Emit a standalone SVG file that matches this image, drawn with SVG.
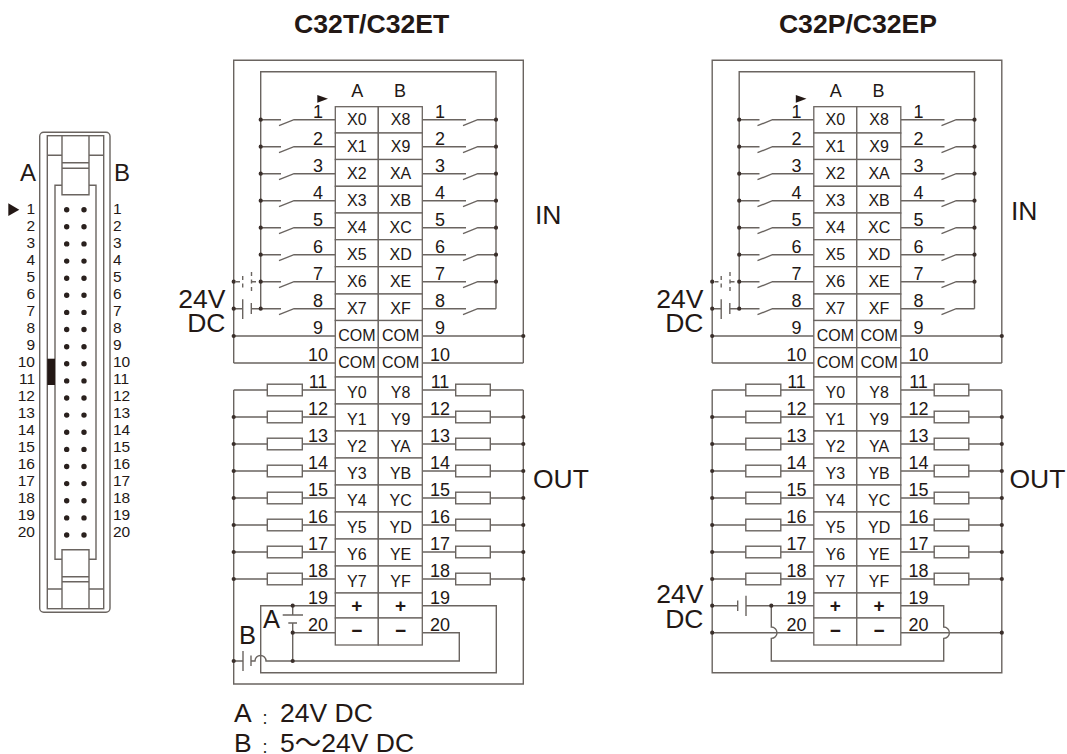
<svg xmlns="http://www.w3.org/2000/svg" width="1067" height="754" viewBox="0 0 1067 754">
<style>
text{font-family:"Liberation Sans",Arial,"Noto Sans CJK JP",sans-serif;fill:#231815}
.w{fill:none;stroke:#6a6460;stroke-width:1.4}
.c{fill:#fff;stroke:#6a6460;stroke-width:1.3}
.d{fill:none;stroke:#3a2f2b;stroke-width:4.2;stroke-linecap:round}
.b{fill:none;stroke:#2a211e;stroke-width:5.4;stroke-linecap:round}
.dash{stroke-dasharray:4 3.5}
.t{font-size:26.6px;font-weight:bold;text-anchor:middle}
.l{font-size:26.5px}
.e{font-size:26.5px;text-anchor:end}
.n{font-size:18px;text-anchor:middle}
.h{font-size:18px;text-anchor:middle}
.x{font-size:16px;text-anchor:middle}
.s{font-size:19px;font-weight:bold;text-anchor:middle}
.p{font-size:15.5px;text-anchor:end}
.q{font-size:15.5px}
.m{fill:#231815}
</style>
<defs>
<g id="wires-common" class="w">
<path d="M233.7 363V60.3H523.3V363M260.7 308.7V71.7H496V308.7M233.7 390V579M523.3 390V579"/>
<path d="M260.7 119.7H281M279 125.7L294 119.7H335.3M260.7 146.7H281M279 152.7L294 146.7H335.3M260.7 173.7H281M279 179.7L294 173.7H335.3M260.7 200.7H281M279 206.7L294 200.7H335.3M260.7 227.7H281M279 233.7L294 227.7H335.3M260.7 254.7H281M279 260.7L294 254.7H335.3M260.7 281.7H281M279 287.7L294 281.7H335.3M260.7 308.7H281M279 314.7L294 308.7H335.3"/>
<path d="M422.3 119.7H466M463 125.7L477.7 119.7H496M422.3 146.7H466M463 152.7L477.7 146.7H496M422.3 173.7H466M463 179.7L477.7 173.7H496M422.3 200.7H466M463 206.7L477.7 200.7H496M422.3 227.7H466M463 233.7L477.7 227.7H496M422.3 254.7H466M463 260.7L477.7 254.7H496M422.3 281.7H466M463 287.7L477.7 281.7H496M422.3 308.7H466M463 314.7L477.7 308.7H496"/>
<path d="M233.7 336H335.3M422.3 336H523.3M233.7 363H335.3M422.3 363H523.3"/>
<path d="M233.7 308.7H242.7M242.7 299.3V319M251.3 303V314M251.3 308.7H260.7"/>
<path class="dash" d="M236 281.7H243M242.7 276V290M251.5 272V292M252 281.7H260"/>
<path d="M233.7 390H335.3M233.7 417H335.3M233.7 444H335.3M233.7 471H335.3M233.7 498H335.3M233.7 525H335.3M233.7 552H335.3M233.7 579H335.3M422.3 390H523.3M422.3 417H523.3M422.3 444H523.3M422.3 471H523.3M422.3 498H523.3M422.3 525H523.3M422.3 552H523.3M422.3 579H523.3"/>
<g fill="#fff">
<rect x="267.3" y="384.2" width="35" height="11.6"/><rect x="267.3" y="411.2" width="35" height="11.6"/><rect x="267.3" y="438.2" width="35" height="11.6"/><rect x="267.3" y="465.2" width="35" height="11.6"/><rect x="267.3" y="492.2" width="35" height="11.6"/><rect x="267.3" y="519.2" width="35" height="11.6"/><rect x="267.3" y="546.2" width="35" height="11.6"/><rect x="267.3" y="573.2" width="35" height="11.6"/>
<rect x="455.7" y="384.2" width="34.6" height="11.6"/><rect x="455.7" y="411.2" width="34.6" height="11.6"/><rect x="455.7" y="438.2" width="34.6" height="11.6"/><rect x="455.7" y="465.2" width="34.6" height="11.6"/><rect x="455.7" y="492.2" width="34.6" height="11.6"/><rect x="455.7" y="519.2" width="34.6" height="11.6"/><rect x="455.7" y="546.2" width="34.6" height="11.6"/><rect x="455.7" y="573.2" width="34.6" height="11.6"/>
</g>
</g>
<path id="dots-common" class="d" d="M260.7 119.7h0M260.7 146.7h0M260.7 173.7h0M260.7 200.7h0M260.7 227.7h0M260.7 254.7h0M260.7 281.7h0M260.7 308.7h0M496 119.7h0M496 146.7h0M496 173.7h0M496 200.7h0M496 227.7h0M496 254.7h0M496 281.7h0M233.7 281.7h0M233.7 308.7h0M233.7 336h0M523.3 336h0M233.7 417h0M233.7 444h0M233.7 471h0M233.7 498h0M233.7 525h0M233.7 552h0M233.7 579h0M523.3 417h0M523.3 444h0M523.3 471h0M523.3 498h0M523.3 525h0M523.3 552h0M523.3 579h0"/>
</defs>

<g id="connector">
<g class="w">
<rect x="39.7" y="132.3" width="70.3" height="480" rx="4"/>
<rect x="47.3" y="135.7" width="56.4" height="473"/>
<path d="M62 135.7V194.7H89V135.7M47.3 155.3H62M89 155.3H103.7M62 162.7H89M62 168.3H89M62 185.3H55V559.3H62M89 185.3H96V559.3H89M62 608.7V549.7H89V608.7M62 576.7H89M62 581.7H89M47.3 589H62M89 589H103.7"/>
</g>
<rect class="m" x="47.3" y="358.7" width="7.7" height="26.3"/>
<path class="m" d="M8.3 203.3L19.3 209.7L8.3 216Z"/>
<path class="b" d="M66.7 209.7h0M84 209.7h0M66.7 226.8h0M84 226.8h0M66.7 243.9h0M84 243.9h0M66.7 261.1h0M84 261.1h0M66.7 278.2h0M84 278.2h0M66.7 295.3h0M84 295.3h0M66.7 312.4h0M84 312.4h0M66.7 329.5h0M84 329.5h0M66.7 346.7h0M84 346.7h0M66.7 363.8h0M84 363.8h0M66.7 380.9h0M84 380.9h0M66.7 398h0M84 398h0M66.7 415.1h0M84 415.1h0M66.7 432.3h0M84 432.3h0M66.7 449.4h0M84 449.4h0M66.7 466.5h0M84 466.5h0M66.7 483.6h0M84 483.6h0M66.7 500.7h0M84 500.7h0M66.7 517.9h0M84 517.9h0M66.7 535h0M84 535h0"/>
<text x="20" y="180.7" font-size="24">A</text><text x="114" y="180.7" font-size="24">B</text>
<text class="p" x="35" y="213.5">1</text><text class="p" x="35" y="230.5">2</text><text class="p" x="35" y="247.5">3</text><text class="p" x="35" y="264.5">4</text><text class="p" x="35" y="281.5">5</text><text class="p" x="35" y="298.5">6</text><text class="p" x="35" y="315.5">7</text><text class="p" x="35" y="332.5">8</text><text class="p" x="35" y="350">9</text><text class="p" x="35" y="367">10</text><text class="p" x="35" y="384">11</text><text class="p" x="35" y="401">12</text><text class="p" x="35" y="418">13</text><text class="p" x="35" y="435">14</text><text class="p" x="35" y="452">15</text><text class="p" x="35" y="469">16</text><text class="p" x="35" y="486">17</text><text class="p" x="35" y="503">18</text><text class="p" x="35" y="520">19</text><text class="p" x="35" y="537.3">20</text>
<text class="q" x="113" y="213.5">1</text><text class="q" x="113" y="230.5">2</text><text class="q" x="113" y="247.5">3</text><text class="q" x="113" y="264.5">4</text><text class="q" x="113" y="281.5">5</text><text class="q" x="113" y="298.5">6</text><text class="q" x="113" y="315.5">7</text><text class="q" x="113" y="332.5">8</text><text class="q" x="113" y="350">9</text><text class="q" x="113" y="367">10</text><text class="q" x="113" y="384">11</text><text class="q" x="113" y="401">12</text><text class="q" x="113" y="418">13</text><text class="q" x="113" y="435">14</text><text class="q" x="113" y="452">15</text><text class="q" x="113" y="469">16</text><text class="q" x="113" y="486">17</text><text class="q" x="113" y="503">18</text><text class="q" x="113" y="520">19</text><text class="q" x="113" y="537.3">20</text>
</g>

<g id="panel-c32t">
<text class="t" x="371.7" y="33.3">C32T/C32ET</text>
<g id="connectors-c32t">
<use href="#wires-common"/>
<g class="w">
<path d="M233.7 579V684H523.3V579"/>
<path d="M335.3 605.7H260.7V672.7H496.3V605.7H422.3"/>
<path d="M292.7 605.7V615M282.7 615H303M288.3 623H297M292.7 623V661M292.7 632.7H335.3M422.3 632.7H459.3V661H266A5.5 5.5 0 0 0 255 661H251M233.7 661H243M243 651V671M251 655.5V666"/>
</g>
<use href="#dots-common"/>
<path class="d" d="M292.7 605.7h0M292.7 632.7h0M292.7 661h0M233.7 661h0"/>
</g>
<g id="terminals-c32t">
<g id="t-x0"><rect class="c" x="335.3" y="106.7" width="43" height="26.3"/><text class="x" x="356.8" y="125">X0</text></g>
<g id="t-x1"><rect class="c" x="335.3" y="133" width="43" height="26.5"/><text class="x" x="356.8" y="152">X1</text></g>
<g id="t-x2"><rect class="c" x="335.3" y="159.5" width="43" height="26.8"/><text class="x" x="356.8" y="179">X2</text></g>
<g id="t-x3"><rect class="c" x="335.3" y="186.3" width="43" height="26.7"/><text class="x" x="356.8" y="206">X3</text></g>
<g id="t-x4"><rect class="c" x="335.3" y="213" width="43" height="26.7"/><text class="x" x="356.8" y="233">X4</text></g>
<g id="t-x5"><rect class="c" x="335.3" y="239.7" width="43" height="27"/><text class="x" x="356.8" y="260">X5</text></g>
<g id="t-x6"><rect class="c" x="335.3" y="266.7" width="43" height="27.3"/><text class="x" x="356.8" y="287">X6</text></g>
<g id="t-x7"><rect class="c" x="335.3" y="294" width="43" height="26.5"/><text class="x" x="356.8" y="314">X7</text></g>
<g id="t-com1"><rect class="c" x="335.3" y="320.5" width="43" height="27.2"/><text class="x" x="356.8" y="340.7">COM</text></g>
<g id="t-com2"><rect class="c" x="335.3" y="347.7" width="43" height="29.3"/><text class="x" x="356.8" y="368.3">COM</text></g>
<g id="t-y0"><rect class="c" x="335.3" y="377" width="43" height="27"/><text class="x" x="356.8" y="398">Y0</text></g>
<g id="t-y1"><rect class="c" x="335.3" y="404" width="43" height="27"/><text class="x" x="356.8" y="425">Y1</text></g>
<g id="t-y2"><rect class="c" x="335.3" y="431" width="43" height="27"/><text class="x" x="356.8" y="452">Y2</text></g>
<g id="t-y3"><rect class="c" x="335.3" y="458" width="43" height="27"/><text class="x" x="356.8" y="479">Y3</text></g>
<g id="t-y4"><rect class="c" x="335.3" y="485" width="43" height="27"/><text class="x" x="356.8" y="506">Y4</text></g>
<g id="t-y5"><rect class="c" x="335.3" y="512" width="43" height="27"/><text class="x" x="356.8" y="533">Y5</text></g>
<g id="t-y6"><rect class="c" x="335.3" y="539" width="43" height="27"/><text class="x" x="356.8" y="560">Y6</text></g>
<g id="t-y7"><rect class="c" x="335.3" y="566" width="43" height="27"/><text class="x" x="356.8" y="587">Y7</text></g>
<g id="t-pa"><rect class="c" x="335.3" y="593" width="43" height="25"/><text class="s" x="356.8" y="612">+</text></g>
<g id="t-ma"><rect class="c" x="335.3" y="618" width="43" height="27"/><text class="s" x="356.8" y="637">−</text></g>
<g id="t-x8"><rect class="c" x="378.3" y="106.7" width="44" height="26.3"/><text class="x" x="400.6" y="125">X8</text></g>
<g id="t-x9"><rect class="c" x="378.3" y="133" width="44" height="26.5"/><text class="x" x="400.6" y="152">X9</text></g>
<g id="t-xa"><rect class="c" x="378.3" y="159.5" width="44" height="26.8"/><text class="x" x="400.6" y="179">XA</text></g>
<g id="t-xb"><rect class="c" x="378.3" y="186.3" width="44" height="26.7"/><text class="x" x="400.6" y="206">XB</text></g>
<g id="t-xc"><rect class="c" x="378.3" y="213" width="44" height="26.7"/><text class="x" x="400.6" y="233">XC</text></g>
<g id="t-xd"><rect class="c" x="378.3" y="239.7" width="44" height="27"/><text class="x" x="400.6" y="260">XD</text></g>
<g id="t-xe"><rect class="c" x="378.3" y="266.7" width="44" height="27.3"/><text class="x" x="400.6" y="287">XE</text></g>
<g id="t-xf"><rect class="c" x="378.3" y="294" width="44" height="26.5"/><text class="x" x="400.6" y="314">XF</text></g>
<g id="t-com3"><rect class="c" x="378.3" y="320.5" width="44" height="27.2"/><text class="x" x="400.6" y="340.7">COM</text></g>
<g id="t-com4"><rect class="c" x="378.3" y="347.7" width="44" height="29.3"/><text class="x" x="400.6" y="368.3">COM</text></g>
<g id="t-y8"><rect class="c" x="378.3" y="377" width="44" height="27"/><text class="x" x="400.6" y="398">Y8</text></g>
<g id="t-y9"><rect class="c" x="378.3" y="404" width="44" height="27"/><text class="x" x="400.6" y="425">Y9</text></g>
<g id="t-ya"><rect class="c" x="378.3" y="431" width="44" height="27"/><text class="x" x="400.6" y="452">YA</text></g>
<g id="t-yb"><rect class="c" x="378.3" y="458" width="44" height="27"/><text class="x" x="400.6" y="479">YB</text></g>
<g id="t-yc"><rect class="c" x="378.3" y="485" width="44" height="27"/><text class="x" x="400.6" y="506">YC</text></g>
<g id="t-yd"><rect class="c" x="378.3" y="512" width="44" height="27"/><text class="x" x="400.6" y="533">YD</text></g>
<g id="t-ye"><rect class="c" x="378.3" y="539" width="44" height="27"/><text class="x" x="400.6" y="560">YE</text></g>
<g id="t-yf"><rect class="c" x="378.3" y="566" width="44" height="27"/><text class="x" x="400.6" y="587">YF</text></g>
<g id="t-pb"><rect class="c" x="378.3" y="593" width="44" height="25"/><text class="s" x="400.6" y="612">+</text></g>
<g id="t-mb"><rect class="c" x="378.3" y="618" width="44" height="27"/><text class="s" x="400.6" y="637">−</text></g>
</g>
<g id="labels-c32t">
<text class="h" x="357.3" y="97.3">A</text><text class="h" x="400" y="97.3">B</text>
<path class="m" d="M317.3 95L328 98.8L317.3 102.7Z"/>
<text class="n" x="318" y="118">1</text><text class="n" x="318" y="145">2</text><text class="n" x="318" y="172">3</text><text class="n" x="318" y="199">4</text><text class="n" x="318" y="226">5</text><text class="n" x="318" y="253">6</text><text class="n" x="318" y="280">7</text><text class="n" x="318" y="307">8</text><text class="n" x="318" y="334">9</text><text class="n" x="318" y="361">10</text><text class="n" x="318" y="388">11</text><text class="n" x="318" y="415">12</text><text class="n" x="318" y="442">13</text><text class="n" x="318" y="469">14</text><text class="n" x="318" y="496">15</text><text class="n" x="318" y="523">16</text><text class="n" x="318" y="550">17</text><text class="n" x="318" y="577">18</text><text class="n" x="318" y="604">19</text><text class="n" x="318" y="631">20</text>
<text class="n" x="440" y="118">1</text><text class="n" x="440" y="145">2</text><text class="n" x="440" y="172">3</text><text class="n" x="440" y="199">4</text><text class="n" x="440" y="226">5</text><text class="n" x="440" y="253">6</text><text class="n" x="440" y="280">7</text><text class="n" x="440" y="307">8</text><text class="n" x="440" y="334">9</text><text class="n" x="440" y="361">10</text><text class="n" x="440" y="388">11</text><text class="n" x="440" y="415">12</text><text class="n" x="440" y="442">13</text><text class="n" x="440" y="469">14</text><text class="n" x="440" y="496">15</text><text class="n" x="440" y="523">16</text><text class="n" x="440" y="550">17</text><text class="n" x="440" y="577">18</text><text class="n" x="440" y="604">19</text><text class="n" x="440" y="631">20</text>
<text class="e" x="225.5" y="308">24V</text><text class="e" x="225.5" y="331.7">DC</text>
<text class="l" x="535" y="224">IN</text><text class="l" x="533" y="488.3">OUT</text>
<text x="263" y="628" font-size="25.5">A</text><text x="239" y="644" font-size="25.5">B</text>
<text class="l" x="234" y="722.3">A<tspan x="258" y="723.7" font-size="14">：</tspan><tspan x="280" y="722.3">24V DC</tspan></text>
<text class="l" x="234" y="751.5">B<tspan x="258" y="753" font-size="14">：</tspan><tspan x="280" y="751.5">5～24V DC</tspan></text>
</g>
</g>

<g id="panel-c32p">
<text class="t" x="858" y="33.3">C32P/C32EP</text>
<g id="connectors-c32p" transform="translate(478.5 0)">
<use href="#wires-common"/>
<g class="w">
<path d="M233.7 579V672.7H523.3V579"/>
<path d="M233.7 605.7H259.2M259.2 600.5V611M267.5 595.7V616M267.5 605.7H335.3M292.8 605.7V627A5.7 5.7 0 0 1 292.8 638.4V661H465.2V638.4A5.7 5.7 0 0 0 465.2 627V605.7H422.3"/>
<path d="M233.7 632.7H335.3M422.3 632.7H523.3"/>
</g>
<use href="#dots-common"/>
<path class="d" d="M233.7 605.7h0M233.7 632.7h0M523.3 632.7h0M292.8 605.7h0"/>
</g>
<g id="terminals-c32p" transform="translate(478.5 0)">
<g id="u-x0"><rect class="c" x="335.3" y="106.7" width="43" height="26.3"/><text class="x" x="356.8" y="125">X0</text></g>
<g id="u-x1"><rect class="c" x="335.3" y="133" width="43" height="26.5"/><text class="x" x="356.8" y="152">X1</text></g>
<g id="u-x2"><rect class="c" x="335.3" y="159.5" width="43" height="26.8"/><text class="x" x="356.8" y="179">X2</text></g>
<g id="u-x3"><rect class="c" x="335.3" y="186.3" width="43" height="26.7"/><text class="x" x="356.8" y="206">X3</text></g>
<g id="u-x4"><rect class="c" x="335.3" y="213" width="43" height="26.7"/><text class="x" x="356.8" y="233">X4</text></g>
<g id="u-x5"><rect class="c" x="335.3" y="239.7" width="43" height="27"/><text class="x" x="356.8" y="260">X5</text></g>
<g id="u-x6"><rect class="c" x="335.3" y="266.7" width="43" height="27.3"/><text class="x" x="356.8" y="287">X6</text></g>
<g id="u-x7"><rect class="c" x="335.3" y="294" width="43" height="26.5"/><text class="x" x="356.8" y="314">X7</text></g>
<g id="u-com1"><rect class="c" x="335.3" y="320.5" width="43" height="27.2"/><text class="x" x="356.8" y="340.7">COM</text></g>
<g id="u-com2"><rect class="c" x="335.3" y="347.7" width="43" height="29.3"/><text class="x" x="356.8" y="368.3">COM</text></g>
<g id="u-y0"><rect class="c" x="335.3" y="377" width="43" height="27"/><text class="x" x="356.8" y="398">Y0</text></g>
<g id="u-y1"><rect class="c" x="335.3" y="404" width="43" height="27"/><text class="x" x="356.8" y="425">Y1</text></g>
<g id="u-y2"><rect class="c" x="335.3" y="431" width="43" height="27"/><text class="x" x="356.8" y="452">Y2</text></g>
<g id="u-y3"><rect class="c" x="335.3" y="458" width="43" height="27"/><text class="x" x="356.8" y="479">Y3</text></g>
<g id="u-y4"><rect class="c" x="335.3" y="485" width="43" height="27"/><text class="x" x="356.8" y="506">Y4</text></g>
<g id="u-y5"><rect class="c" x="335.3" y="512" width="43" height="27"/><text class="x" x="356.8" y="533">Y5</text></g>
<g id="u-y6"><rect class="c" x="335.3" y="539" width="43" height="27"/><text class="x" x="356.8" y="560">Y6</text></g>
<g id="u-y7"><rect class="c" x="335.3" y="566" width="43" height="27"/><text class="x" x="356.8" y="587">Y7</text></g>
<g id="u-pa"><rect class="c" x="335.3" y="593" width="43" height="25"/><text class="s" x="356.8" y="612">+</text></g>
<g id="u-ma"><rect class="c" x="335.3" y="618" width="43" height="27"/><text class="s" x="356.8" y="637">−</text></g>
<g id="u-x8"><rect class="c" x="378.3" y="106.7" width="44" height="26.3"/><text class="x" x="400.6" y="125">X8</text></g>
<g id="u-x9"><rect class="c" x="378.3" y="133" width="44" height="26.5"/><text class="x" x="400.6" y="152">X9</text></g>
<g id="u-xa"><rect class="c" x="378.3" y="159.5" width="44" height="26.8"/><text class="x" x="400.6" y="179">XA</text></g>
<g id="u-xb"><rect class="c" x="378.3" y="186.3" width="44" height="26.7"/><text class="x" x="400.6" y="206">XB</text></g>
<g id="u-xc"><rect class="c" x="378.3" y="213" width="44" height="26.7"/><text class="x" x="400.6" y="233">XC</text></g>
<g id="u-xd"><rect class="c" x="378.3" y="239.7" width="44" height="27"/><text class="x" x="400.6" y="260">XD</text></g>
<g id="u-xe"><rect class="c" x="378.3" y="266.7" width="44" height="27.3"/><text class="x" x="400.6" y="287">XE</text></g>
<g id="u-xf"><rect class="c" x="378.3" y="294" width="44" height="26.5"/><text class="x" x="400.6" y="314">XF</text></g>
<g id="u-com3"><rect class="c" x="378.3" y="320.5" width="44" height="27.2"/><text class="x" x="400.6" y="340.7">COM</text></g>
<g id="u-com4"><rect class="c" x="378.3" y="347.7" width="44" height="29.3"/><text class="x" x="400.6" y="368.3">COM</text></g>
<g id="u-y8"><rect class="c" x="378.3" y="377" width="44" height="27"/><text class="x" x="400.6" y="398">Y8</text></g>
<g id="u-y9"><rect class="c" x="378.3" y="404" width="44" height="27"/><text class="x" x="400.6" y="425">Y9</text></g>
<g id="u-ya"><rect class="c" x="378.3" y="431" width="44" height="27"/><text class="x" x="400.6" y="452">YA</text></g>
<g id="u-yb"><rect class="c" x="378.3" y="458" width="44" height="27"/><text class="x" x="400.6" y="479">YB</text></g>
<g id="u-yc"><rect class="c" x="378.3" y="485" width="44" height="27"/><text class="x" x="400.6" y="506">YC</text></g>
<g id="u-yd"><rect class="c" x="378.3" y="512" width="44" height="27"/><text class="x" x="400.6" y="533">YD</text></g>
<g id="u-ye"><rect class="c" x="378.3" y="539" width="44" height="27"/><text class="x" x="400.6" y="560">YE</text></g>
<g id="u-yf"><rect class="c" x="378.3" y="566" width="44" height="27"/><text class="x" x="400.6" y="587">YF</text></g>
<g id="u-pb"><rect class="c" x="378.3" y="593" width="44" height="25"/><text class="s" x="400.6" y="612">+</text></g>
<g id="u-mb"><rect class="c" x="378.3" y="618" width="44" height="27"/><text class="s" x="400.6" y="637">−</text></g>
</g>
<g id="labels-c32p" transform="translate(478.5 0)">
<text class="h" x="357.3" y="97.3">A</text><text class="h" x="400" y="97.3">B</text>
<path class="m" d="M317.3 95L328 98.8L317.3 102.7Z"/>
<text class="n" x="318" y="118">1</text><text class="n" x="318" y="145">2</text><text class="n" x="318" y="172">3</text><text class="n" x="318" y="199">4</text><text class="n" x="318" y="226">5</text><text class="n" x="318" y="253">6</text><text class="n" x="318" y="280">7</text><text class="n" x="318" y="307">8</text><text class="n" x="318" y="334">9</text><text class="n" x="318" y="361">10</text><text class="n" x="318" y="388">11</text><text class="n" x="318" y="415">12</text><text class="n" x="318" y="442">13</text><text class="n" x="318" y="469">14</text><text class="n" x="318" y="496">15</text><text class="n" x="318" y="523">16</text><text class="n" x="318" y="550">17</text><text class="n" x="318" y="577">18</text><text class="n" x="318" y="604">19</text><text class="n" x="318" y="631">20</text>
<text class="n" x="440" y="118">1</text><text class="n" x="440" y="145">2</text><text class="n" x="440" y="172">3</text><text class="n" x="440" y="199">4</text><text class="n" x="440" y="226">5</text><text class="n" x="440" y="253">6</text><text class="n" x="440" y="280">7</text><text class="n" x="440" y="307">8</text><text class="n" x="440" y="334">9</text><text class="n" x="440" y="361">10</text><text class="n" x="440" y="388">11</text><text class="n" x="440" y="415">12</text><text class="n" x="440" y="442">13</text><text class="n" x="440" y="469">14</text><text class="n" x="440" y="496">15</text><text class="n" x="440" y="523">16</text><text class="n" x="440" y="550">17</text><text class="n" x="440" y="577">18</text><text class="n" x="440" y="604">19</text><text class="n" x="440" y="631">20</text>
<text class="e" x="225" y="308">24V</text><text class="e" x="225" y="331.7">DC</text>
<text class="e" x="225" y="603.3">24V</text><text class="e" x="225" y="627.7">DC</text>
<text class="l" x="532.5" y="220">IN</text><text class="l" x="531" y="488.3">OUT</text>
</g>
</g>
</svg>
